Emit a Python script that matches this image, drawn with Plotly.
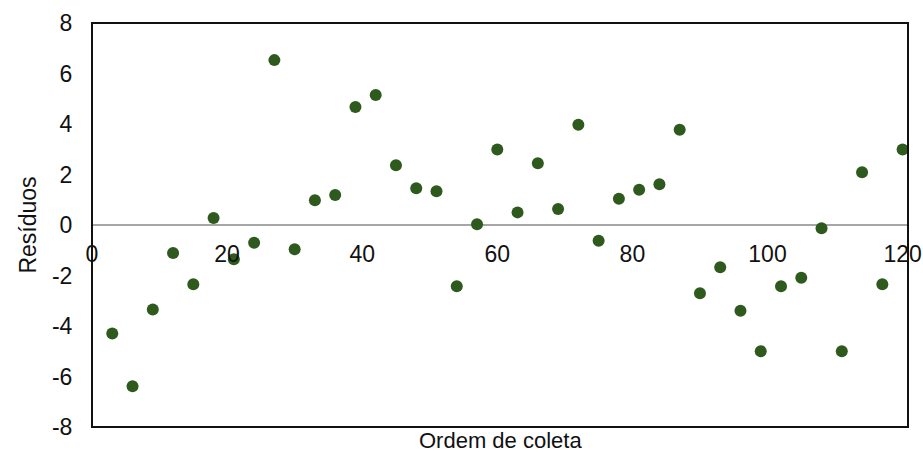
import plotly.graph_objects as go

# Collection order and residuals
ordem = [3, 6, 9, 12, 15, 18, 21, 24, 27, 30,
         33, 36, 39, 42, 45, 48, 51, 54, 57, 60,
         63, 66, 69, 72, 75, 78, 81, 84, 87, 90,
         93, 96, 99, 102, 105, 108, 111, 114, 117, 120]
residuos = [-4.30, -6.39, -3.35, -1.11, -2.35, 0.28, -1.36, -0.70, 6.53, -0.96,
            0.98, 1.19, 4.67, 5.15, 2.37, 1.46, 1.34, -2.43, 0.03, 2.99,
            0.50, 2.45, 0.63, 3.97, -0.62, 1.04, 1.40, 1.61, 3.77, -2.70,
            -1.67, -3.40, -5.00, -2.43, -2.09, -0.13, -5.00, 2.09, -2.35, 2.99]

x_ticks = [0, 20, 40, 60, 80, 100, 120]
y_ticks = [-8, -6, -4, -2, 0, 2, 4, 6, 8]

font = dict(family="Liberation Sans, Arial, sans-serif", size=23, color="#111111")

fig = go.Figure()
fig.add_trace(go.Scatter(
    x=ordem, y=residuos, mode="markers",
    marker=dict(size=12, color="#2F5A1E", line=dict(width=0)),
    showlegend=False, cliponaxis=False,
))

fig.update_layout(
    width=923, height=452,
    margin=dict(l=92, r=15, t=23, b=25),
    paper_bgcolor="white", plot_bgcolor="white",
    font=font,
    xaxis=dict(
        range=[0, 120.8], tickvals=x_ticks, ticktext=[str(v) for v in x_ticks],
        anchor="free", position=0.5, automargin=False,
        showgrid=False, zeroline=False, showline=False,
        ticks="outside", ticklen=8, tickcolor="rgba(0,0,0,0)",
        tickfont=font,
    ),
    yaxis=dict(
        range=[-8, 8], tickvals=y_ticks, ticktext=[str(v) for v in y_ticks],
        automargin=False,
        showgrid=False, zeroline=True, zerolinecolor="#A6A6A6", zerolinewidth=2,
        showline=False,
        ticks="outside", ticklen=14, tickcolor="rgba(0,0,0,0)",
        tickfont=font,
        title=dict(text="Resíduos", font=font, standoff=8),
    ),
    shapes=[dict(type="rect", xref="paper", yref="paper", x0=0, x1=1, y0=0, y1=1,
                 line=dict(color="#111111", width=2), fillcolor="rgba(0,0,0,0)",
                 layer="above")],
    annotations=[dict(text="Ordem de coleta", xref="paper", yref="paper",
                      x=0.5, y=0, xanchor="center", yanchor="top", yshift=1,
                      showarrow=False, font=dict(family=font["family"], size=22,
                                                 color=font["color"]))],
)

fig.write_html("out.html")
